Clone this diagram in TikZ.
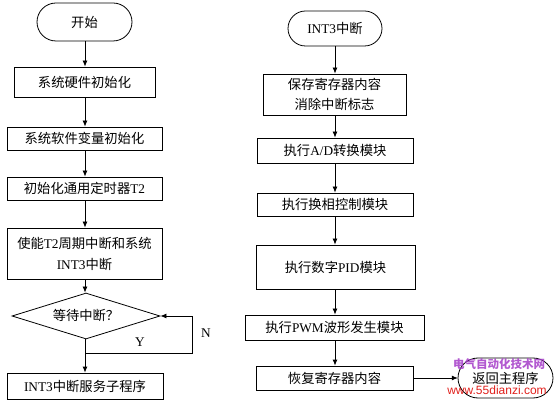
\documentclass[tikz,border=0pt]{standalone}
\usepackage{fontspec}
\setmainfont{Liberation Serif}
\newfontfamily\cjk{Noto Sans CJK SC}
\newfontfamily\wmsans{Liberation Sans}
\newcommand\zh[1]{{\cjk #1}}
\usetikzlibrary{shapes.geometric,arrows.meta}
\definecolor{wmpurple}{HTML}{A43CC8}
\definecolor{wmred}{HTML}{E0201C}
\begin{document}
\begin{tikzpicture}[x=1pt,y=-1pt,
  every node/.style={font=\fontsize{13.3}{21}\selectfont, inner sep=0pt, align=center},
  proc/.style={draw, line width=0.8pt, minimum width=#1},
  flow/.style={line width=0.8pt, -{Latex[length=6pt,width=5pt]}},
  plain/.style={line width=0.8pt}]
\useasboundingbox (0,0) rectangle (557,403);
% left column
\draw[plain, rounded corners=19pt] (37,3) rectangle (132,41);
\node (start) at (84.5,22) [minimum width=95pt, minimum height=38pt] {\zh{开始}};
\node[proc=141pt, minimum height=30pt] (b1) at (84.5,82) {\zh{系统硬件初始化}};
\node[proc=155pt, minimum height=23pt] (b2) at (84.5,138.5) {\zh{系统软件变量初始化}};
\node[proc=155pt, minimum height=23pt] (b3) at (84.5,188.5) {\zh{初始化通用定时器}T2};
\node[proc=155pt, minimum height=51pt] (b4) at (84.5,253.5) {\zh{使能}T2\zh{周期中断和系统}\\INT3\zh{中断}};
\node[draw, line width=0.8pt, diamond, aspect=3.2, minimum width=148pt, minimum height=46pt] (d) at (86,316) {};
\node at (86,315) {\zh{等待中断？}};
\node[proc=156pt, minimum height=26pt] (b5) at (85,386) {INT3\zh{中断服务子程序}};
\coordinate (j) at (85,353);
\coordinate (jr) at (192,353);
\coordinate (jt) at (192,316);
\draw[flow] (start.south -| 85,0) -- (b1.north -| 85,0);
\draw[flow] (b1.south -| 85,0) -- (b2.north -| 85,0);
\draw[flow] (b2.south -| 85,0) -- (b3.north -| 85,0);
\draw[flow] (b3.south -| 85,0) -- (b4.north -| 85,0);
\draw[flow] (b4.south -| 85,0) -- (d.north -| 85,0);
\draw[flow] (d.south -| 85,0) -- (b5.north -| 85,0);
\draw[flow] (j) -- (jr) -- (jt) -- (d.east);
\node (N) at (206,333) {N};
\node (Y) at (140,342) {Y};
% right column
\draw[plain, rounded corners=17.5pt] (288,11) rectangle (382,46);
\node (int) at (335,28.5) [minimum width=94pt, minimum height=35pt] {INT3\zh{中断}};
\node[proc=143pt, minimum height=41pt] (r1) at (334.5,94.5) {\zh{保存寄存器内容}\\[-1pt]\zh{消除中断标志}};
\node[proc=156pt, minimum height=25pt] (r2) at (335,150.5) {\zh{执行}A/D\zh{转换模块}};
\node[proc=156pt, minimum height=23pt] (r3) at (335,204.5) {\zh{执行换相控制模块}};
\node[proc=159pt, minimum height=44pt] (r4) at (335.5,267) {\zh{执行数字}PID\zh{模块}};
\node[proc=179pt, minimum height=25pt] (r5) at (334.5,327.5) {\zh{执行}PWM\zh{波形发生模块}};
\node[proc=157pt, minimum height=24pt] (r6) at (334.5,378) {\zh{恢复寄存器内容}};
\draw[plain, rounded corners=20pt] (458,358) rectangle (553,398);
\node (ret) at (505.5,378) [minimum width=95pt, minimum height=40pt] {\zh{返回主程序}};
\draw[flow] (int.south -| 335,0) -- (r1.north -| 335,0);
\draw[flow] (r1.south -| 335,0) -- (r2.north -| 335,0);
\draw[flow] (r2.south -| 335,0) -- (r3.north -| 335,0);
\draw[flow] (r3.south -| 335,0) -- (r4.north -| 335,0);
\draw[flow] (r4.south -| 335,0) -- (r5.north -| 335,0);
\draw[flow] (r5.south -| 335,0) -- (r6.north -| 335,0);
\draw[flow] (r6.east) -- (ret.west);
% watermark
\node[text=wmpurple, opacity=0.85, font=\cjk\bfseries\fontsize{11.5}{14}\selectfont] (wm1) at (499,364) {电气自动化技术网};
\node[text=wmred, font=\wmsans\fontsize{12}{14}\selectfont] (wm2) at (497,390) {www.55dianzi.com};
\end{tikzpicture}
\end{document}
